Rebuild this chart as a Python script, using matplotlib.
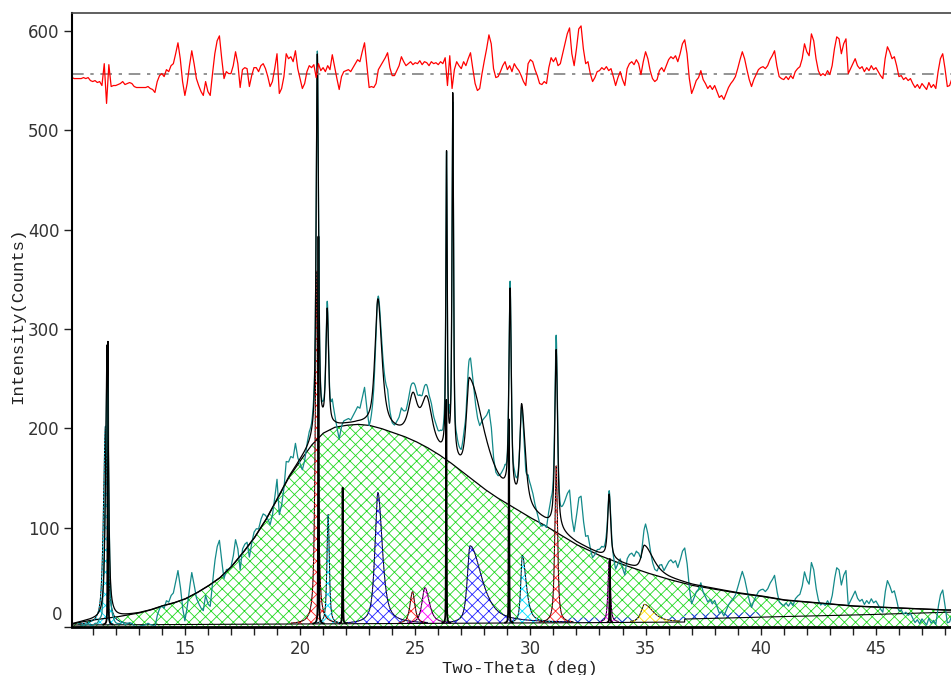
import numpy as np
import matplotlib

matplotlib.use("Agg")
import matplotlib.pyplot as plt

# ---------------------------------------------------------------- data
# difference curve (observed - calculated), read every 0.1 deg from 10.1 deg
RES_START = 10.1
RES_STEP = 0.1
RES_OFFSET = 557
residual = [
    -4, -5, -5, -5, -5, -4, -5, -4, -7,                    # 10.1-10.9
    -8, -7, -9, -8, -12, 10, -30, 9, -13, -12,             # 11
    -12, -11, -10, -8, -11, -10, -9, -10, -13, -14,        # 12
    -14, -14, -14, -14, -13, -15, -16, -19, -8, -2,        # 13
    0, -3, 4, 2, 8, 10, 20, 31, 15, -8,                    # 14
    -22, -10, 8, 23, 10, -5, -12, -18, -22, -8,            # 15
    -18, -22, 0, 20, 33, 38, 15, -5, 2, 0,                 # 16
    0, 8, 22, 10, -14, 4, 6, 5, -13, -2,                   # 17
    6, 6, 2, 8, 10, 5, -3, -13, -8, 5,                     # 18
    20, -20, -15, -3, 20, 15, 17, 12, 23, 5,               # 19
    -5, -15, -10, 2, 8, 6, 9, -4, 10, 3,                   # 20
    6, 2, 8, 4, 19, 7, -5, -16, -3, 2,                     # 21
    3, 4, 2, 6, 10, 14, 12, 22, 31, 8,                     # 22
    -14, -13, -14, -10, 4, 8, 12, 16, 21, 6,               # 23
    -2, -2, 3, 8, 17, 12, 8, 10, 12, 9,                    # 24
    11, 10, 13, 9, 12, 11, 8, 12, 10, 11,                  # 25
    9, 12, 10, 16, -12, 18, -15, 4, 12, 8,                 # 26
    5, 12, 8, 15, 21, 5, -10, -17, -15, 0,                 # 27
    13, 25, 39, 30, 5, -4, -3, 2, 8, 12,                   # 28
    4, 8, 2, 10, 6, 3, -2, -8, -12, 10,                    # 29
    14, 12, 4, -2, -10, -11, -8, -10, 6, 16,               # 30
    12, 16, 8, 10, 20, 30, 40, 46, 20, 8,                  # 31
    25, 45, 48, 25, 10, 12, 0, -8, -4, 2,                  # 32
    3, 6, 4, 7, 3, 5, -3, -12, -4, 2,                      # 33
    -6, -12, 5, 10, 12, 9, 14, 10, -1, 12,                 # 34
    22, 15, 3, -5, -8, -6, 3, 6, 2, 8,                     # 35
    14, 17, 15, 18, 12, 20, 30, 34, 20, -5,                # 36
    -20, -14, -7, -4, 3, -6, -10, -15, -12, -16,           # 37
    -12, -18, -24, -22, -26, -20, -14, -10, -7, -3,        # 38
    5, 14, 22, 15, 4, -6, -13, -6, -1, 4,                  # 39
    6, 7, 5, 8, 14, 18, 23, 8, -3, -5,                     # 40
    -6, -3, -6, -2, -5, 2, 5, 7, 15, 30,                   # 41
    22, 18, 40, 33, 15, 3, -2, 0, -2, 3,                   # 42
    -1, 8, 25, 37, 35, 20, 30, 35, 0, 5,                   # 43
    10, 15, 8, 5, 7, 2, 6, 3, 8, 4,                        # 44
    6, 2, -2, -5, 15, 27, 22, 15, 17, 8,                   # 45
    -3, -2, -6, -4, -7, -5, -10, -14, -11, -15,            # 46
    -10, -13, -16, -9, -14, -11, -15, 2, 15, 20,           # 47
    5, -13, -12, -5,                                       # 48.0-48.3
]

# amorphous hump (green hatched area)
hump_tt = [10.1, 10.5, 11, 11.5, 12, 12.5, 13, 13.5, 14, 14.5, 15, 15.5, 16, 16.5,
           17, 17.5, 18, 18.5, 19, 19.5, 20, 20.5, 21, 21.5, 22, 22.5, 23, 23.5,
           24, 24.5, 25, 25.5, 26, 26.5, 27, 27.5, 28, 28.5, 29, 29.5, 30, 30.5,
           31, 31.5, 32, 33, 34, 35, 36, 37, 38, 39, 40, 41, 42, 43, 44, 45, 46,
           47, 48, 48.3]
hump_y = [3, 5, 7, 8.5, 10, 12, 14, 17, 21, 24, 28, 34, 41, 49,
          60, 74, 89, 107, 128, 150, 167, 183, 195, 201, 203, 204, 203, 200,
          196, 192, 187, 181, 174, 166, 157, 148, 139, 131, 124, 117, 110, 104,
          97, 90, 83, 72, 63, 55, 48, 42, 38, 34, 31, 27, 25, 23, 21, 20, 19,
          18, 17, 17]

# background line under the peaks
bg_tt = [10.1, 20, 30, 36.7, 36.7, 40, 44, 48.3]
bg_y = [2, 3, 4, 5, 8, 10, 12, 15]

# calculated pattern: peaks on top of the hump (position, height, left/right FWHM)
calc_pos = [11.62, 20.75, 21.18, 23.38, 24.90, 25.50, 26.36, 26.63, 27.35,
            29.12, 29.62, 31.12, 33.42, 34.95]
calc_h = [275, 385, 118, 128, 40, 46, 300, 365, 98, 205, 100, 180, 64, 26]
calc_wl = [0.14, 0.12, 0.14, 0.30, 0.45, 0.55, 0.07, 0.08, 0.30, 0.12, 0.18, 0.14, 0.15, 0.30]
calc_wr = [0.14, 0.12, 0.14, 0.40, 0.45, 0.55, 0.07, 0.08, 1.50, 0.12, 0.35, 0.14, 0.15, 0.90]

# phase peaks drawn as hatched areas
phase_pos = [11.55, 20.72, 21.22, 23.38, 24.88, 25.42, 27.38, 29.65, 31.12, 33.42, 34.95]
phase_h = [200, 355, 110, 132, 32, 36, 78, 68, 158, 62, 18]
phase_wl = [0.20, 0.14, 0.12, 0.30, 0.25, 0.30, 0.28, 0.16, 0.14, 0.12, 0.35]
phase_wr = [0.20, 0.14, 0.12, 0.45, 0.25, 0.45, 1.20, 0.40, 0.14, 0.12, 0.90]
phase_color = ["#00e0ff", "#ff2020", "#00e0ff", "#2020ff", "#ff2020", "#ff00ff",
               "#2020ff", "#00e0ff", "#ff2020", "#ff00ff", "#ffe000"]

# narrow unfilled peaks (black lines)
stick_pos = [11.66, 20.80, 21.85, 26.35, 29.07, 33.45]
stick_h = [285, 390, 137, 225, 205, 64]

# broad low blue band
band_tt = [31.4, 31.6, 39.9, 40.0]
band_y = [0, 5, 5, 0]

# ---------------------------------------------------------------- helpers
def profile(x, pos, h, wl, wr, eta=0.7):
    w = np.where(x < pos, wl, wr)
    u = (x - pos) / w
    return h * (eta / (1 + 4 * u * u) + (1 - eta) * np.exp(-4 * np.log(2) * u * u))


tt = np.arange(10.1, 48.305, 0.005)
res_tt = RES_START + RES_STEP * np.arange(len(residual))
res = np.array(residual, dtype=float)

hump = np.interp(tt, hump_tt, hump_y)
bg = np.interp(tt, bg_tt, bg_y)
calc = hump.copy()
for p, h, wl, wr in zip(calc_pos, calc_h, calc_wl, calc_wr):
    calc += profile(tt, p, h, wl, wr)
obs = calc + np.interp(tt, res_tt, res)

# ---------------------------------------------------------------- figure
plt.rcParams["hatch.linewidth"] = 0.6
fig = plt.figure(figsize=(9.51, 6.75), dpi=100)
ax = fig.add_axes([72 / 951, 48 / 675, 879 / 951, 614 / 675])

# amorphous hump
ax.fill_between(tt, 0, hump, facecolor="none", edgecolor="#20d820", hatch="xxx", linewidth=0)
ax.plot(tt, hump, color="black", lw=0.9)

# low blue band
band = np.interp(tt, band_tt, band_y)
ax.fill_between(tt, bg, bg + band, where=band > 0, facecolor="none",
                edgecolor="#2020ff", hatch="xxx", linewidth=0)

# phase peaks
for p, h, wl, wr, c in zip(phase_pos, phase_h, phase_wl, phase_wr, phase_color):
    y = profile(tt, p, h, wl, wr)
    m = y > 1.0
    ax.fill_between(tt[m], bg[m], bg[m] + y[m], facecolor="white", edgecolor=c,
                    hatch="xxx", linewidth=0)
    ax.plot(tt[m], bg[m] + y[m], color="black", lw=0.7)
    ax.plot(tt[m], bg[m] + y[m], color=c, lw=0.8, ls=(0, (1, 2)))

# narrow black peaks
for p, h in zip(stick_pos, stick_h):
    y = profile(tt, p, h, 0.03, 0.03, eta=0.3)
    m = y > 0.5
    ax.plot(tt[m], bg[m] + y[m], color="black", lw=1.3)

ax.plot(tt, bg, color="black", lw=0.8)

# observed and calculated
ax.plot(tt, obs, color="#138a8a", lw=0.9)
ax.plot(tt, calc, color="black", lw=0.9)

# difference curve
ax.axhline(RES_OFFSET, color="#808080", lw=1.2, ls=(0, (7, 4, 2, 4)))
ax.plot(res_tt, res + RES_OFFSET, color="#ff0000", lw=0.9)

# ---------------------------------------------------------------- axes
ax.set_xlim(10.1, 48.26)
ax.set_ylim(0, 618)
ax.set_xticks([15, 20, 25, 30, 35, 40, 45])
ax.set_xticks(np.arange(11, 49), minor=True)
ax.set_yticks([0, 100, 200, 300, 400, 500, 600])
ax.set_yticklabels(["", "100", "200", "300", "400", "500", "600"])
ax.annotate("0", xy=(0, 0), xycoords=("axes fraction", "data"), xytext=(-7, 9),
            textcoords="offset points", ha="right", va="center",
            fontsize=12, color="#333333")
ax.tick_params(axis="both", which="both", direction="out", length=6, width=1,
               colors="#222222", labelsize=12, labelcolor="#333333")
ax.tick_params(axis="x", pad=3)
ax.tick_params(axis="y", pad=3)
ax.spines["right"].set_visible(False)
ax.spines["top"].set_color("#444444")
ax.spines["top"].set_linewidth(1.2)
ax.spines["left"].set_linewidth(1.5)
ax.spines["bottom"].set_linewidth(2)

fig.text(520 / 951, 1 - 668 / 675, "Two-Theta (deg)", ha="center", va="center",
         family="Liberation Mono", fontsize=12.5, color="#222222")
fig.text(18 / 951, 1 - 316 / 675, "Intensity(Counts)", ha="center", va="center",
         rotation=90, family="Liberation Mono", fontsize=12.5, color="#222222")

fig.savefig("out.png", dpi=100)
